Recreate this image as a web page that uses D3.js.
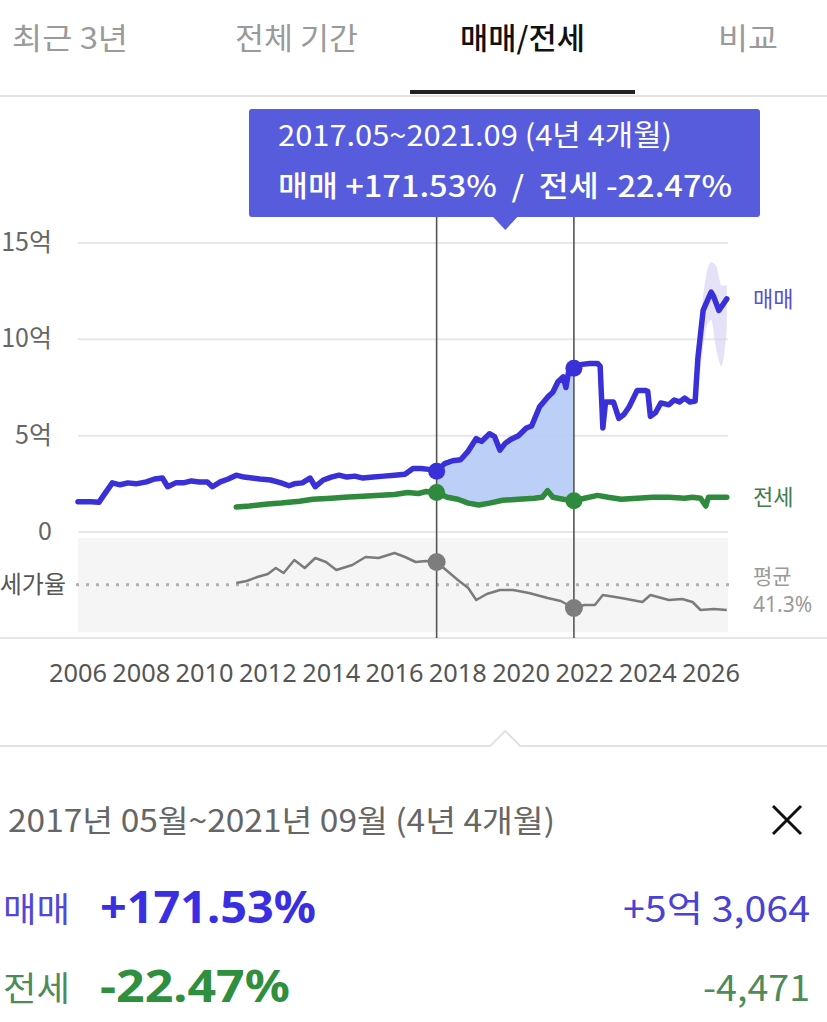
<!DOCTYPE html>
<html><head><meta charset="utf-8">
<script src="https://cdn.jsdelivr.net/npm/d3@7"></script>
<style>
body{margin:0;background:#fff;}
svg{display:block;font-family:"Noto Sans CJK KR","Noto Sans",sans-serif;}
</style>
</head><body>
<svg id="c" width="827" height="1022"></svg>
<script>
// ---------- data ----------
const tabs = ["최근 3년", "전체 기간", "매매/전세", "비교"];
const activeTab = "매매/전세";
const yTicks = [0, 5, 10, 15];              // 억
const xTickYears = [2006, 2008, 2010, 2012, 2014, 2016, 2018, 2020, 2022, 2024, 2026];

const saleDates = ["2006-01","2006-06","2006-09","2006-11","2007-02","2007-05","2007-08","2007-11","2008-03","2008-06","2008-09","2008-11","2009-02","2009-05","2009-08","2009-11","2010-02","2010-04","2010-07","2010-10","2011-01","2011-04","2011-07","2011-10","2012-02","2012-06","2012-09","2012-11","2013-02","2013-05","2013-07","2013-10","2014-01","2014-04","2014-07","2014-10","2015-01","2015-05","2015-09","2016-01","2016-05","2016-08","2016-11","2017-02","2017-05","2017-08","2017-11","2018-02","2018-05","2018-08","2018-10","2019-01","2019-03","2019-05","2019-07","2019-09","2019-12","2020-03","2020-05","2020-08","2020-11","2021-01","2021-03","2021-05","2021-06","2021-07","2021-09","2021-12","2022-03","2022-06","2022-07","2022-08","2022-09","2022-12","2023-02","2023-04","2023-06","2023-09","2023-12","2024-01","2024-02","2024-04","2024-06","2024-09","2024-11","2025-01","2025-03","2025-05","2025-07","2025-08","2025-10","2026-01","2026-02","2026-04","2026-06","2026-07"];
const saleValues = [1.57,1.57,1.55,1.95,2.55,2.45,2.55,2.5,2.6,2.75,2.8,2.35,2.55,2.55,2.65,2.6,2.6,2.35,2.6,2.75,2.95,2.85,2.8,2.75,2.7,2.55,2.4,2.5,2.55,2.8,2.35,2.7,2.85,2.95,2.85,2.9,2.8,2.85,2.9,2.95,3.0,3.3,3.3,3.25,3.15,3.55,3.7,3.75,4.2,4.85,4.7,5.1,4.95,4.25,4.6,4.8,5.0,5.4,5.5,6.5,7.0,7.25,7.8,8.05,7.5,8.3,8.5,8.7,8.75,8.75,8.6,5.4,6.75,6.75,5.9,6.1,6.5,7.35,7.35,7.3,6.0,6.2,6.7,6.6,6.85,6.75,6.95,6.75,6.8,9.0,11.5,12.45,12.2,11.5,11.9,12.1];

const saleBandDates = ["2025-07","2025-09","2025-11","2026-01","2026-03","2026-05","2026-07"];
const saleBandLow  = [6.5, 8.5, 10.5, 11.0, 9.5, 8.6, 10.5];
const saleBandHigh = [7.2, 11.0, 13.2, 14.0, 13.8, 12.8, 12.8];

const jeonseDates = ["2011-01","2011-06","2012-01","2012-06","2013-01","2013-06","2014-01","2014-06","2015-01","2015-06","2016-01","2016-06","2016-10","2017-01","2017-05","2017-09","2018-01","2018-05","2018-09","2019-01","2019-06","2019-12","2020-06","2020-09","2020-11","2021-01","2021-05","2021-09","2022-01","2022-06","2022-10","2023-03","2023-09","2024-03","2024-09","2025-03","2025-06","2025-09","2025-11","2025-12","2026-03","2026-07"];
const jeonseValues = [1.3,1.35,1.45,1.5,1.6,1.7,1.75,1.8,1.85,1.9,1.95,2.05,2.0,2.1,2.05,1.8,1.7,1.5,1.4,1.5,1.65,1.7,1.75,1.8,2.15,1.8,1.7,1.62,1.75,1.9,1.8,1.7,1.75,1.8,1.8,1.75,1.8,1.75,1.35,1.8,1.8,1.8];

const ratioDates = ["2011-01","2011-05","2011-09","2012-01","2012-04","2012-07","2012-11","2013-03","2013-07","2013-11","2014-03","2014-09","2015-02","2015-07","2016-01","2016-05","2016-09","2017-01","2017-05","2017-09","2018-01","2018-05","2018-08","2018-12","2019-05","2019-10","2020-04","2020-11","2021-04","2021-09","2022-01","2022-05","2022-08","2023-03","2023-11","2024-02","2024-09","2025-02","2025-06","2025-09","2026-02","2026-07"];
const ratioValues = [43,45,49,52,58,53,66,58,68,64,56,61,69,68,73,69,64,65,64,55,46,38,26,32,36,36,33,28,25,18,21,21,31,28,24,31,26,27,24,16,17,16];
const ratioAverage = 41.3;

const selection = { start: "2017-05", end: "2021-09", label: "2017.05~2021.09 (4년 4개월)" };
const summaryTitle = "2017년 05월~2021년 09월 (4년 4개월)";
const summaryNames = ["매매", "전세"];
const summaryPct = ["+171.53%", "-22.47%"];
const summaryDiff = ["+5억 3,064", "-4,471"];

// ---------- setup ----------
const parse = d3.timeParse("%Y-%m");
const svg = d3.select("#c");
const C = { sale: "#3a30d8", jeonse: "#2f8a3e", ratio: "#7b7b7b", fill: "#b5cbf6", tip: "#565cdb" };

const x = d3.scaleTime().domain([new Date(2006,0,1), new Date(2026,6,15)]).range([78, 728]);
const y = d3.scaleLinear().domain([0, 15]).range([532, 243]);
const rY = d3.scaleLinear().domain([0, 100]).range([626, 526]);

const sale = saleDates.map((d,i)=>({date: parse(d), v: saleValues[i]}));
const jeonse = jeonseDates.map((d,i)=>({date: parse(d), v: jeonseValues[i]}));
const ratio = ratioDates.map((d,i)=>({date: parse(d), v: ratioValues[i]}));
const saleBand = saleBandDates.map((d,i)=>({date: parse(d), lo: saleBandLow[i], hi: saleBandHigh[i]}));

function valueAt(series, t){
  const b = d3.bisector(d=>d.date).left;
  let i = b(series, t);
  if (i <= 0) return series[0].v;
  if (i >= series.length) return series[series.length-1].v;
  const a = series[i-1], c = series[i];
  const f = (t - a.date) / (c.date - a.date);
  return a.v + (c.v - a.v) * f;
}
function fit(sel, w){ return sel.attr("textLength", w).attr("lengthAdjust","spacingAndGlyphs"); }

// ---------- tabs ----------
const tabX = [12, 235, 460, 718];
const tabW = [116, 123, 125, 60];
svg.selectAll("text.tab").data(tabs).join("text")
  .attr("x", (d,i)=>tabX[i]).attr("y", 49)
  .attr("font-size", 30)
  .attr("font-weight", d=> d===activeTab ? 500 : 400)
  .attr("fill", d=> d===activeTab ? "#111" : "#9a9a9a")
  .attr("textLength", (d,i)=>tabW[i]).attr("lengthAdjust","spacingAndGlyphs")
  .text(d=>d);
svg.append("rect").attr("x",0).attr("y",95).attr("width",827).attr("height",2).attr("fill","#e3e3e3");
svg.append("rect").attr("x",410).attr("y",90).attr("width",225).attr("height",4).attr("fill","#222");

// ---------- grid ----------
svg.append("g").selectAll("line").data(yTicks).join("line")
  .attr("x1",78).attr("x2",728).attr("y1",d=>y(d)).attr("y2",d=>y(d))
  .attr("stroke","#e8e8e8").attr("stroke-width",2);
svg.append("g").selectAll("text").data(yTicks).join("text")
  .attr("x",52).attr("y",d=>y(d)+8).attr("text-anchor","end")
  .attr("font-size",25).attr("fill","#666")
  .text(d=> d===0 ? "0" : d+"억");

// ratio panel
svg.append("rect").attr("x",78).attr("y",538).attr("width",650).attr("height",94).attr("fill","#f5f5f5");
svg.append("rect").attr("x",0).attr("y",637).attr("width",827).attr("height",2).attr("fill","#e6e6e6");
svg.append("line").attr("x1",76).attr("x2",735).attr("y1",rY(ratioAverage)).attr("y2",rY(ratioAverage))
  .attr("stroke","#b0b0b0").attr("stroke-width",3).attr("stroke-dasharray","3,7");
svg.append("text").attr("x",66).attr("y",rY(ratioAverage)+8).attr("text-anchor","end")
  .attr("font-size",24).attr("fill","#555").text("전세가율");

// x axis labels
svg.append("g").selectAll("text").data(xTickYears).join("text")
  .attr("x",d=>x(new Date(d,0,1))).attr("y",682).attr("text-anchor","middle")
  .attr("font-size",26).attr("fill","#555").attr("font-family","'Noto Sans',sans-serif")
  .attr("textLength",58).attr("lengthAdjust","spacingAndGlyphs")
  .text(d=>d);

// ---------- selection fill ----------
const s0 = parse(selection.start), s1 = parse(selection.end);
const selPts = [{date:s0}].concat(sale.filter(d=>d.date>s0 && d.date<s1)).concat([{date:s1}]);
svg.append("path").datum(selPts)
  .attr("fill", C.fill).attr("opacity",0.9)
  .attr("d", d3.area().x(d=>x(d.date))
    .y1(d=>y(valueAt(sale,d.date))).y0(d=>y(valueAt(jeonse,d.date))));

// ---------- bands ----------
svg.append("path").datum(saleBand).attr("fill","#cfcbf3").attr("opacity",0.55)
  .attr("d", d3.area().x(d=>x(d.date)).y0(d=>y(d.lo)).y1(d=>y(d.hi)).curve(d3.curveMonotoneX));

// ---------- lines ----------
const line = d3.line().x(d=>x(d.date)).y(d=>y(d.v));
svg.append("path").datum(jeonse).attr("fill","none").attr("stroke",C.jeonse)
  .attr("stroke-width",5.5).attr("stroke-linejoin","round").attr("stroke-linecap","round").attr("d",line);
svg.append("path").datum(sale).attr("fill","none").attr("stroke",C.sale)
  .attr("stroke-width",5.5).attr("stroke-linejoin","round").attr("stroke-linecap","round").attr("d",line);
svg.append("path").datum(ratio).attr("fill","none").attr("stroke",C.ratio)
  .attr("stroke-width",2.5).attr("stroke-linejoin","round")
  .attr("d", d3.line().x(d=>x(d.date)).y(d=>rY(d.v)));

// ---------- selection lines & markers ----------
[s0, s1].forEach(t=>{
  svg.append("line").attr("x1",x(t)).attr("x2",x(t)).attr("y1",217).attr("y2",638)
    .attr("stroke","#555").attr("stroke-width",1.6);
});
[s0, s1].forEach(t=>{
  svg.append("circle").attr("cx",x(t)).attr("cy",y(valueAt(sale,t))).attr("r",8.5).attr("fill",C.sale);
  svg.append("circle").attr("cx",x(t)).attr("cy",y(valueAt(jeonse,t))).attr("r",8.5).attr("fill",C.jeonse);
  svg.append("circle").attr("cx",x(t)).attr("cy",rY(valueAt(ratio,t))).attr("r",9).attr("fill","#7d7d7d");
});

// right labels
const lastJ = jeonse[jeonse.length-1];
svg.append("text").attr("x",753).attr("y",y(12.1)+8).attr("font-size",22).attr("fill","#5a50d6").text("매매");
svg.append("text").attr("x",753).attr("y",y(lastJ.v)+8).attr("font-size",22).attr("fill","#3f7d4b").text("전세");
svg.append("text").attr("x",753).attr("y",584).attr("font-size",21).attr("fill","#9a9a9a").text("평균");
svg.append("text").attr("x",753).attr("y",612).attr("font-size",21).attr("fill","#9a9a9a")
  .attr("font-family","'Noto Sans',sans-serif").text(ratioAverage+"%");

// ---------- tooltip ----------
const tipCx = (x(s0)+x(s1))/2;
const tip = svg.append("g");
tip.append("rect").attr("x",249).attr("y",109).attr("width",511).attr("height",108).attr("rx",3).attr("fill",C.tip);
tip.append("path").attr("d",`M${tipCx-13},216 L${tipCx},230 L${tipCx+13},216 Z`).attr("fill",C.tip);
fit(tip.append("text").attr("x",278).attr("y",146).attr("font-size",29).attr("fill","#fff").text(selection.label), 394);
fit(tip.append("text").attr("x",278).attr("y",197).attr("font-size",29).attr("font-weight",500).attr("fill","#fff")
  .attr("xml:space","preserve").style("white-space","pre")
  .text(`매매 ${summaryPct[0]}  /  전세 ${summaryPct[1]}`), 454);

// ---------- bottom panel ----------
svg.append("path").attr("d",`M0,746 L${tipCx-15},746 L${tipCx},731 L${tipCx+15},746 L827,746`)
  .attr("fill","none").attr("stroke","#e2e2e2").attr("stroke-width",2);
fit(svg.append("text").attr("x",8).attr("y",832).attr("font-size",31).attr("fill","#666").text(summaryTitle), 547);
const xg = svg.append("g").attr("stroke","#111").attr("stroke-width",3);
xg.append("line").attr("x1",773).attr("y1",806).attr("x2",801).attr("y2",834);
xg.append("line").attr("x1",801).attr("y1",806).attr("x2",773).attr("y2",834);

const rowY = [922, 1001];
const nameCol = ["#5247d6", "#4f8a5a"];
const pctCol = ["#3a2fe0", "#2f8f3f"];
const diffCol = ["#4a42d4", "#4f8a5a"];
const pctW = [216, 190];
const diffW = [187, 107];
summaryNames.forEach((n,i)=>{
  fit(svg.append("text").attr("x",3).attr("y",rowY[i]).attr("font-size",34).attr("fill",nameCol[i]).text(n), 67);
  fit(svg.append("text").attr("x",100).attr("y",rowY[i]+1).attr("font-size",45).attr("font-weight",700)
    .attr("font-family","'Noto Sans',sans-serif").attr("fill",pctCol[i]).text(summaryPct[i]), pctW[i]);
  fit(svg.append("text").attr("x",810).attr("y",rowY[i]).attr("text-anchor","end").attr("font-size",36)
    .attr("fill",diffCol[i]).text(summaryDiff[i]), diffW[i]);
});
</script>
</body></html>
